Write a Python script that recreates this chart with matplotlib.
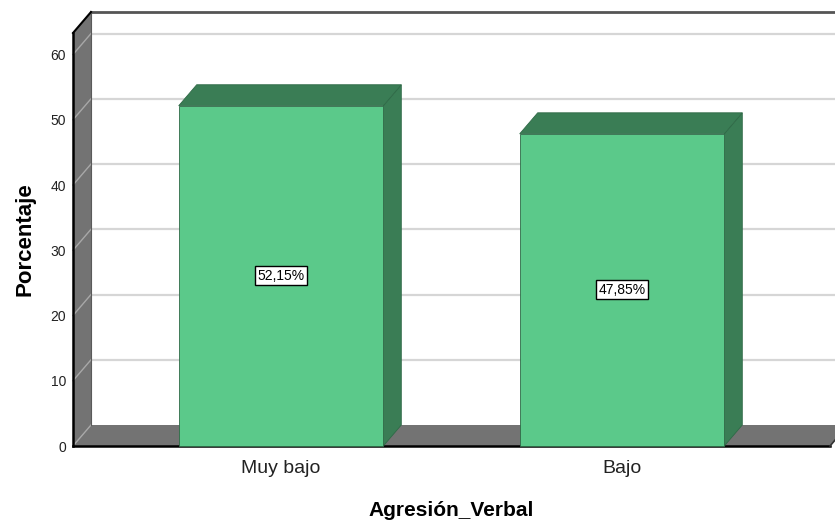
import matplotlib
matplotlib.use('Agg')
import matplotlib.pyplot as plt
from matplotlib.patches import Polygon

categories = ['Muy bajo', 'Bajo']
percentages = [52.15, 47.85]
value_labels = ['52,15%', '47,85%']
yticks = [0, 10, 20, 30, 40, 50, 60]
x_title = 'Agresión_Verbal'
y_title = 'Porcentaje'

plt.rcParams['font.family'] = ['Liberation Sans', 'DejaVu Sans']

W, H = 835, 523
fig = plt.figure(figsize=(W / 100, H / 100), dpi=100)
left_px, right_px, bottom_px, top_px = 73, 830, 446, 33
ax = fig.add_axes([left_px / W, (H - bottom_px) / H,
                   (right_px - left_px) / W, (bottom_px - top_px) / H])
xmin, xmax, ymax = -0.61, 1.61, 63.3
ax.set_xlim(xmin, xmax)
ax.set_ylim(0, ymax)
for s in ax.spines.values():
    s.set_visible(False)

# depth offset (pixels -> data units)
DX_PX, DY_PX = 18, 21
ddx = DX_PX * (xmax - xmin) / (right_px - left_px)
ddy = DY_PX * ymax / (bottom_px - top_px)

wall_gray = '#737373'
grid_col = '#d6d6d6'
front_col = '#5bc98a'
side_col = '#3a7d55'
edge_col = '#2f6a47'

# back wall grid and top border
far = xmax + ddx + 0.3
for y in yticks[1:]:
    ax.plot([xmin + ddx, far], [y + ddy, y + ddy], color=grid_col, lw=1.6,
            clip_on=False, zorder=1)
ax.plot([xmin + ddx, far], [ymax + ddy, ymax + ddy], color='#555555', lw=2,
        clip_on=False, zorder=1)

# left wall
ax.add_patch(Polygon([(xmin, 0), (xmin + ddx, ddy), (xmin + ddx, ymax + ddy), (xmin, ymax)],
                     closed=True, fc=wall_gray, ec='none', clip_on=False, zorder=2))
for y in yticks[1:]:
    ax.plot([xmin, xmin + ddx], [y, y + ddy], color='#a8a8a8', lw=1, clip_on=False, zorder=2.5)
# floor
ax.add_patch(Polygon([(xmin, 0), (xmax, 0), (xmax + ddx, ddy), (xmin + ddx, ddy)],
                     closed=True, fc=wall_gray, ec='none', clip_on=False, zorder=2))
ax.plot([xmin, xmin + ddx], [0, ddy], color='#a8a8a8', lw=1, clip_on=False, zorder=2.5)
ax.plot([xmin + ddx, xmin + ddx], [ddy, ymax + ddy], color='#5a5a5a', lw=0.8, clip_on=False, zorder=2.6)
ax.plot([xmin, xmin + ddx], [ymax, ymax + ddy], color='black', lw=1.5, clip_on=False, zorder=3)
ax.plot([xmin, xmin], [0, ymax], color='black', lw=1.8, clip_on=False, zorder=3)
ax.plot([xmin, xmax], [0, 0], color='black', lw=1.8, clip_on=False, zorder=3)
ax.plot([xmax, xmax + ddx], [0, ddy], color='#333333', lw=1.2, clip_on=False, zorder=3)

# bars
bw = 0.6
xs = list(range(len(categories)))
for x, h in zip(xs, percentages):
    r = x + bw / 2
    l = x - bw / 2
    ax.add_patch(Polygon([(r, 0), (r + ddx, ddy), (r + ddx, h + ddy), (r, h)], closed=True,
                         fc=side_col, ec=edge_col, lw=0.6, clip_on=False, zorder=4))
    ax.add_patch(Polygon([(l, h), (r, h), (r + ddx, h + ddy), (l + ddx, h + ddy)], closed=True,
                         fc=side_col, ec=edge_col, lw=0.6, clip_on=False, zorder=4))
ax.bar(xs, percentages, width=bw, color=front_col, edgecolor=edge_col, lw=0.6,
       zorder=5, clip_on=False)
for x, h, t in zip(xs, percentages, value_labels):
    ax.text(x, h / 2, t, ha='center', va='center', fontsize=10, zorder=6,
            bbox=dict(boxstyle='square,pad=0.18', fc='white', ec='black', lw=1))

ax.set_yticks(yticks)
ax.set_yticklabels([str(v) for v in yticks], fontsize=10, color='#222222')
ax.set_xticks(xs)
ax.set_xticklabels(categories, fontsize=14, color='#222222')
ax.tick_params(axis='y', length=0, pad=5)
ax.tick_params(axis='x', length=0, pad=10)
ax.set_xlabel(x_title, fontsize=15, fontweight='bold', labelpad=17)
ax.set_ylabel(y_title, fontsize=16, fontweight='bold', labelpad=11)

fig.savefig('out.png', dpi=100)
